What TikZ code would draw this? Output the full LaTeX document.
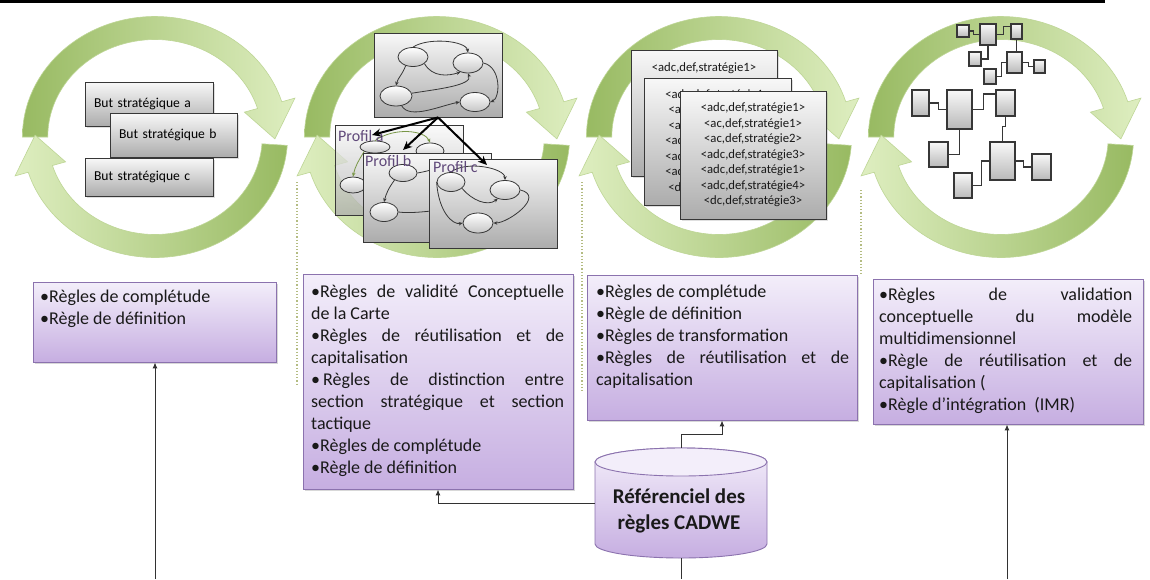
\documentclass[tikz,border=0pt]{standalone}
\usepackage{fontspec}
\setmainfont{Carlito}
\usetikzlibrary{arrows.meta,shapes.geometric,shadows,calc}

\definecolor{gdark}{RGB}{152,186,98}
\definecolor{glight}{RGB}{222,238,192}
\definecolor{gedge}{RGB}{190,214,150}
\definecolor{ptop}{RGB}{243,238,250}
\definecolor{pbot}{RGB}{198,174,225}
\definecolor{pedge}{RGB}{139,114,174}
\definecolor{btop}{RGB}{248,248,248}
\definecolor{bbot}{RGB}{172,172,172}
\definecolor{bedge}{RGB}{55,55,55}
\definecolor{conncol}{RGB}{50,50,50}
\definecolor{dotc}{RGB}{180,188,130}
\definecolor{proftxt}{RGB}{96,73,122}
\definecolor{olivec}{RGB}{120,150,70}

\newcommand\greencycle[1]{%
\begin{scope}[shift={(#1,137)},x=1.1pt,y=1pt]
 \shadedraw[left color=gdark,right color=glight,draw=gedge,line width=0.6pt]
  (180:120.5) arc[start angle=180,end angle=17,radius=120.5]
  -- (17:133) -- (-1:109) -- (17:85) -- (17:97.5)
  arc[start angle=17,end angle=180,radius=97.5] -- cycle;
 \shadedraw[left color=glight,right color=gdark,draw=gedge,line width=0.6pt]
  (-4:120.5) arc[start angle=-4,end angle=-163,radius=120.5]
  -- (-163:133) -- (-181:109) -- (-163:85) -- (-163:97.5)
  arc[start angle=-163,end angle=-4,radius=97.5] -- cycle;
\end{scope}}

\begin{document}
\begin{tikzpicture}[x=1pt,y=-1pt,
  gbox/.style={draw=bedge,line width=0.9pt,top color=btop,bottom color=bbot,inner sep=0pt},
  sbox/.style={gbox,drop shadow={shadow xshift=1.5pt,shadow yshift=-1.5pt,opacity=0.25}},
  pbox/.style={draw=pedge,line width=0.9pt,top color=ptop,bottom color=pbot,inner sep=0pt,
     drop shadow={shadow xshift=2pt,shadow yshift=-2pt,opacity=0.3}},
  ell/.style={ellipse,draw=bedge,line width=0.8pt,top color=white,bottom color=gray!45,inner sep=0pt},
  garr/.style={draw=bedge,line width=0.8pt,-{Stealth[length=4pt,width=3.5pt]}},
  oarr/.style={draw=olivec,line width=0.8pt,-{Stealth[length=4pt,width=3.5pt]}},
  cbox/.style={draw=bedge,line width=1.1pt,top color=white!95!gray,bottom color=gray!55,inner sep=0pt},
  wire/.style={draw=bedge,line width=1.1pt},
  conn/.style={draw=conncol,line width=1pt,-{Latex[length=6pt,width=5pt]}},
  bigarr/.style={draw=black,line width=2pt,-{Stealth[length=9pt,width=8pt]}},
  dotl/.style={draw=dotc,line width=1.2pt,dotted},
  txt/.style={font=\fontsize{18}{22}\selectfont,align=left,inner sep=0pt,anchor=north west,text=black!90},
  lst/.style={font=\fontsize{12.7}{15.5}\selectfont,align=center,text=black!90},
  prof/.style={font=\fontsize{16}{18}\selectfont,text=proftxt,inner sep=0pt,anchor=base west},
]
\fill[white] (0,0) rectangle (1150,579);
\useasboundingbox (0,0) rectangle (1150,579);

% ---------- green cycles ----------
\greencycle{155}
\greencycle{437}
\greencycle{719}
\greencycle{1001}

\draw[line width=3pt] (0,1.5) -- (1105,1.5);

% ---------- cycle 1 ----------
\node[sbox,minimum width=128pt,minimum height=44pt,text width=110pt,inner xsep=9pt,align=left,
      font=\fontsize{13.6}{16}\selectfont] (ba) at (149,104) {But stratégique a};
\node[sbox,minimum width=127pt,minimum height=44pt,text width=109pt,inner xsep=9pt,align=left,
      font=\fontsize{13.6}{16}\selectfont] (bb) at (173.5,135) {But stratégique b};
\node[sbox,minimum width=128pt,minimum height=38pt,text width=110pt,inner xsep=9pt,align=left,
      font=\fontsize{13.6}{16}\selectfont] (bc) at (149,177) {But stratégique c};

% ---------- cycle 2 ----------
\node[gbox,minimum width=128pt,minimum height=84pt] (g0) at (438,75) {};
\node[ell,minimum width=30pt,minimum height=19pt] (g1) at (413,57) {};
\node[ell,minimum width=30pt,minimum height=20pt] (g2) at (468,63) {};
\node[ell,minimum width=32pt,minimum height=20pt] (g3) at (396,96) {};
\node[ell,minimum width=30pt,minimum height=19pt] (g4) at (475,102) {};
\draw[garr] (g1.north) .. controls +(15,-10) and +(-2,-12) .. (g2.north);
\draw[garr] (g1.-30) .. controls +(8,14) and +(-12,4) .. (g2.230);
\draw[garr] (g1.230) .. controls +(-4,10) and +(2,-8) .. (g3.north);
\draw[garr] (g3.10) .. controls +(25,-4) and +(5,12) .. (g2.south);
\draw[garr] (g3.-60) .. controls +(8,14) and +(-20,4) .. (g4.west);
\draw[garr] (g2.east) .. controls +(18,4) and +(10,-4) .. (g4.east);

% Profil a
\node[gbox,fill opacity=0.75,minimum width=128pt,minimum height=90pt] (pa) at (399,170) {};
\node[ell,minimum width=30pt,minimum height=12pt] (a1) at (375,147) {};
\node[ell,minimum width=28pt,minimum height=16pt] (a2) at (430,151) {};
\node[ell,minimum width=26pt,minimum height=16pt] (a3) at (353,185) {};
\draw[oarr] (a1.north) .. controls +(20,-14) and +(-5,-12) .. (a2.north);
\draw[oarr] (a1.south west) .. controls +(-6,10) and +(2,-10) .. (a3.north);
\node[prof] (pal) at (338,141) {Profil a};

% Profil b
\node[gbox,minimum width=128pt,minimum height=89pt] (pb) at (427,197.5) {};
\node[ell,minimum width=28pt,minimum height=17pt] (b1) at (403,173) {};
\node[ell,minimum width=28pt,minimum height=19pt] (b2) at (384,212) {};
\coordinate (bx) at (445,210);
\coordinate (by) at (445,168);
\draw[garr] (b1.220) .. controls +(-6,8) and +(2,-8) .. (b2.north);
\draw[draw=bedge,line width=0.8pt] (b2.east) .. controls +(15,2) and +(-10,0) .. (bx);
\draw[draw=bedge,line width=0.8pt] (b1.east) .. controls +(12,-2) and +(-10,0) .. (by);
\node[prof] (pbl) at (365,166) {Profil b};

% Profil c
\node[gbox,minimum width=128pt,minimum height=89pt] (pc) at (493,203.5) {};
\node[ell,minimum width=28pt,minimum height=19pt] (c1) at (451,182) {};
\node[ell,minimum width=30pt,minimum height=19pt] (c2) at (505,190) {};
\node[ell,minimum width=30pt,minimum height=20pt] (c3) at (478,223) {};
\draw[garr] (c1.north) .. controls +(15,-12) and +(0,-12) .. (c2.north);
\draw[garr] (c1.-30) .. controls +(10,12) and +(-10,8) .. (c2.230);
\draw[garr] (c1.west) .. controls +(2,30) and +(-10,2) .. (c3.west);
\draw[garr] (c2.east) .. controls +(25,6) and +(15,0) .. (c3.east);
\node[prof] (pcl) at (433,172) {Profil c};

\coordinate (ta) at (372,135);
\coordinate (tb) at (403,150);
\coordinate (tc) at (487,165);
\draw[bigarr] (g0.south) -- (ta);
\draw[bigarr] (g0.south) -- (tb);
\draw[bigarr] (g0.south) -- (tc);

% ---------- cycle 3 ----------
\node[sbox,minimum width=146pt,minimum height=126pt] (t1) at (704,113) {};
\node[lst,inner sep=0pt] (t1l) at (704,68) {<adc,def,stratégie1>};
\node[sbox,lst,minimum width=147pt,minimum height=127pt,inner sep=0pt] (t2) at (717.5,141.5)
 {<adc,def,stratégie1>\\<ac,def,stratégie1>\\<ac,def,stratégie2>\\<adc,def,stratégie3>\\<adc,def,stratégie1>\\<adc,def,stratégie4>\\<dc,def,stratégie3>};
\node[sbox,lst,minimum width=146pt,minimum height=128pt,inner sep=0pt] (t3) at (753,155)
 {<adc,def,stratégie1>\\<ac,def,stratégie1>\\<ac,def,stratégie2>\\<adc,def,stratégie3>\\<adc,def,stratégie1>\\<adc,def,stratégie4>\\<dc,def,stratégie3>};

% ---------- cycle 4 ----------
\node[cbox,minimum width=12pt,minimum height=12pt] (s1) at (963,31) {};
\node[cbox,minimum width=16pt,minimum height=21pt] (s2) at (988,34.5) {};
\node[cbox,minimum width=11pt,minimum height=15pt] (s3) at (1016.5,31.5) {};
\node[cbox,minimum width=12pt,minimum height=14pt] (s4) at (975,59) {};
\node[cbox,minimum width=15pt,minimum height=21pt] (s5) at (1014.5,62.5) {};
\node[cbox,minimum width=11pt,minimum height=13pt] (s6) at (1039.5,66.5) {};
\node[cbox,minimum width=12pt,minimum height=15pt] (s7) at (990,76.5) {};
\node[cbox,minimum width=17pt,minimum height=26pt] (l1) at (920.5,103) {};
\node[cbox,minimum width=25pt,minimum height=39pt] (l2) at (959.5,109.5) {};
\node[cbox,minimum width=19pt,minimum height=26pt] (l3) at (1005.5,103) {};
\node[cbox,minimum width=19pt,minimum height=25pt] (l4) at (938.5,154.5) {};
\node[cbox,minimum width=25pt,minimum height=38pt] (l5) at (1002.5,161) {};
\node[cbox,minimum width=19pt,minimum height=26pt] (l6) at (1041.5,167) {};
\node[cbox,minimum width=18pt,minimum height=25pt] (l7) at (963,185.5) {};
\draw[wire] (s1.east) -- ++(4,0) |- (s2.west);
\draw[wire] (s2.east) -- ++(7,0) |- ($(s3.west)+(0,-5)$);
\draw[wire] (s2.south) |- (s4.east);
\draw[wire] (s3.south) -- (s5.north -| s3.south);
\draw[wire] (s5.east) -- ++(6,0) |- (s6.west);
\draw[wire] (s7.east) -- ++(5,0) |- (s5.west);
\draw[wire] (l1.east) -- ++(9,0) |- (l2.west);
\draw[wire] (l2.east) -- ++(11,0) |- ($(l3.west)+(0,-9)$);
\draw[wire] (l2.south) |- (l4.east);
\draw[wire] (l3.south) -- ++(0,10) -| (l5.north);
\draw[wire] (l5.west) -- ++(-8,0) |- (l7.east);
\draw[wire] (l5.east) -- ++(8,0) |- (l6.west);

% ---------- dotted separators ----------
\draw[dotl] (297,182) -- (297,385);
\draw[dotl] (582,182) -- (582,392);
\draw[dotl] (861,190) -- (861,276);

% ---------- rule boxes ----------
\node[pbox,minimum width=243pt,minimum height=80pt] (boxA) at (154.5,322) {};
\node[pbox,minimum width=270pt,minimum height=215pt] (boxB) at (438,381.5) {};
\node[pbox,minimum width=270pt,minimum height=145pt] (boxC) at (722,347.5) {};
\node[pbox,minimum width=270pt,minimum height=145pt] (boxD) at (1008,351.5) {};

\node[txt] (boxAt) at (40,287) {\strut•Règles de complétude\\•Règle de définition};
\node[txt] (boxBt) at (311,282) {\strut\makebox[253pt][s]{•Règles de validité Conceptuelle}\\
de la Carte\\
\makebox[253pt][s]{•Règles de réutilisation et de}\\
capitalisation\\
\makebox[253pt][s]{•\kern3pt Règles de distinction entre}\\
\makebox[253pt][s]{section stratégique et section}\\
tactique\\
•Règles de complétude\\
•Règle de définition};
\node[txt] (boxCt) at (596,282) {\strut•Règles de complétude\\
•Règle de définition\\
•Règles de transformation\\
\makebox[253pt][s]{•Règles de réutilisation et de}\\
capitalisation};
\node[txt] (boxDt) at (879,285) {\strut\makebox[253pt][s]{•Règles de validation}\\
\makebox[253pt][s]{conceptuelle du modèle}\\
multidimensionnel\\
\makebox[253pt][s]{•Règle de réutilisation et de}\\
capitalisation (\\
•Règle d’intégration\ \ (IMR)};

% ---------- database cylinder ----------
\shadedraw[top color=ptop,bottom color=pbot,draw=pedge,line width=0.9pt]
  (595,462) -- (595,544) arc[start angle=180,end angle=360,x radius=86pt,y radius=14pt]
  -- (767,462) arc[start angle=0,end angle=180,x radius=86pt,y radius=14pt] -- cycle;
\filldraw[fill=ptop,draw=pedge,line width=0.9pt] (681,462) ellipse[x radius=86pt,y radius=14pt];
\node[minimum width=172pt,minimum height=110pt,inner sep=0pt] (db) at (681,503) {};
\node[font=\bfseries\fontsize{21}{26}\selectfont,align=center,text=black!90] (dbt) at (679,511)
  {Référenciel des\\règles CADWE};

% ---------- connectors ----------
\coordinate (ea) at (155,579);
\coordinate (ed) at (1007,579);
\coordinate (ec) at (681,579);
\draw[conn] (ea) -- (ea |- boxA.south);
\draw[conn] (ed) -- (ed |- boxD.south);
\draw[conn] (db.west) -| (boxB.south);
\draw[conn] (db.north) -- ++(0,-13) -| (boxC.south);
\draw[draw=conncol,line width=1pt] (db.south) -- (ec);
\end{tikzpicture}
\end{document}
